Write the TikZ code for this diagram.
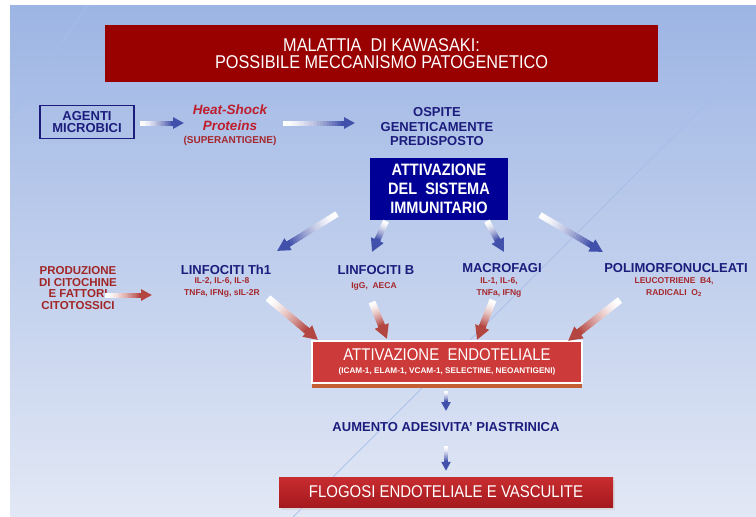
\documentclass[tikz,border=0pt]{standalone}
\usepackage{fontspec}
\setmainfont{Liberation Sans}
\newfontfamily\narrowsf[FakeStretch=0.88]{Liberation Sans}
\usepackage{tikz}
\usetikzlibrary{arrows.meta, calc, positioning}

\definecolor{bgTop}{RGB}{157,181,228}
\definecolor{bgMid}{RGB}{190,206,236}
\definecolor{bgBot}{RGB}{226,232,245}
\definecolor{decoLine}{RGB}{165,190,232}
\definecolor{titleRed}{RGB}{153,0,0}
\definecolor{navyBox}{RGB}{0,0,150}
\definecolor{navyText}{RGB}{28,28,125}
\definecolor{heatRed}{RGB}{190,30,45}
\definecolor{subRed}{RGB}{165,40,45}
\definecolor{prodRed}{RGB}{160,38,38}
\definecolor{endoRed}{RGB}{204,58,58}
\definecolor{endoShadow}{RGB}{195,95,50}
\definecolor{flogTop}{RGB}{200,45,48}
\definecolor{flogMid}{RGB}{210,60,60}
\definecolor{flogBot}{RGB}{165,25,30}
\definecolor{arrBlue}{RGB}{65,80,170}
\definecolor{arrRed}{RGB}{180,70,65}

\newcommand{\fsz}[2]{\fontsize{#1}{#2}\selectfont}

% white-to-colour arrow: colour, shaft width, head size, tail, tip
\newcommand{\fadearrow}[5]{%
  \coordinate (fa-t) at #4;
  \coordinate (fa-h) at #5;
  \coordinate (fa-s) at ($(fa-h)!#3!(fa-t)$);
  \coordinate (fa-u) at ($(fa-s)!1pt!(fa-t)$);
  \foreach \k [evaluate=\k as \segA using \k/20,
               evaluate=\k as \segB using (\k+1.5)/20,
               evaluate=\k as \segC using int(100*(\k/19)^1.5)] in {0,...,19}
    \draw[#1!\segC!white, line width=#2] ($(fa-t)!\segA!(fa-s)$) -- ($(fa-t)!\segB!(fa-s)$);
  \draw[#1, line width=#2, -{Triangle[length=#3, width=#3]}] (fa-u) -- (fa-h);
}

\begin{document}
\begin{tikzpicture}[x=1pt, y=-1pt,
    plain/.style={inner sep=0pt, align=center},
    celltitle/.style={plain, text=navyText, font=\bfseries\fsz{13}{14}},
    cellsub/.style={plain, text=subRed, font=\bfseries\fsz{8.5}{12}}]
  \useasboundingbox (0,0) rectangle (756,517);

  % slide background
  \fill[white] (0,0) rectangle (756,517);
  \shade[top color=bgTop, middle color=bgMid, bottom color=bgBot] (10,5) rectangle (756,517);
  \draw[decoLine, line width=0.7pt] (756,54) -- (293,517);
  \draw[decoLine, line width=0.7pt] (88,5) -- (10,118);

  % title
  \node[plain, fill=titleRed, minimum width=553, minimum height=57, text=white,
        font=\narrowsf\fsz{18.5}{17}] (title) at (381.5,53.5)
        {MALATTIA\ \ DI KAWASAKI:\\POSSIBILE MECCANISMO PATOGENETICO};

  % top chain
  \node[plain, draw=navyText, line width=1.5pt, minimum width=94, minimum height=33,
        text=navyText, font=\bfseries\fsz{13}{12}] (agenti) at (87,122) {AGENTI\\MICROBICI};
  \node[plain, text=heatRed, font=\bfseries\itshape\fsz{13.5}{16}] (heat) at (230,125)
        {Heat-Shock\\Proteins\\[-3pt]{\upshape\fsz{10}{10}\color{subRed}(SUPERANTIGENE)}};
  \node[plain, text=navyText, font=\bfseries\fsz{13}{14.5}] (ospite) at (437,127)
        {OSPITE\\GENETICAMENTE\\PREDISPOSTO};
  \node[plain, fill=navyBox, minimum width=138, minimum height=62, text=white,
        font=\narrowsf\bfseries\fsz{16.5}{19}] (attiv) at (439,189)
        {ATTIVAZIONE\\DEL\ \ SISTEMA\\IMMUNITARIO};

  % cells
  \node[plain, text=prodRed, font=\bfseries\fsz{11.5}{11.5}] (prod) at (78,288)
        {PRODUZIONE\\DI CITOCHINE\\E FATTORI\\CITOTOSSICI};
  \node[celltitle] (th1) at (226,270) {LINFOCITI Th1};
  \node[cellsub] (th1sub) at (222,287) {IL-2, IL-6, IL-8\\TNFa, IFNg, sIL-2R};
  \node[celltitle] (linfB) at (376,270) {LINFOCITI B};
  \node[cellsub] (linfBsub) at (374,286) {IgG,\ \ AECA};
  \node[celltitle] (macro) at (502,268) {MACROFAGI};
  \node[cellsub] (macrosub) at (499,287) {IL-1, IL-6,\\TNFa, IFNg};
  \node[celltitle] (poly) at (676,268) {POLIMORFONUCLEATI};
  \node[cellsub] (polysub) at (674,287) {LEUCOTRIENE\ \ B4,\\RADICALI\ \ O\textsubscript{2}};

  % endothelium and outcome
  \node[plain, fill=endoRed, draw=white, line width=1.8pt, minimum width=270, minimum height=42,
        preaction={fill=endoShadow, transform canvas={yshift=-5pt}},
        text=white, font=\narrowsf\fsz{17}{13}] (endo) at (447,362)
        {ATTIVAZIONE\ \ ENDOTELIALE\\{\normalfont\bfseries\fsz{8.2}{8}(ICAM-1, ELAM-1, VCAM-1, SELECTINE, NEOANTIGENI)}};
  \node[plain, text=navyText, font=\bfseries\fsz{13}{14}] (aumento) at (446,427)
        {AUMENTO ADESIVITA' PIASTRINICA};
  \node[plain, top color=flogTop, middle color=flogMid, bottom color=flogBot,
        minimum width=334, minimum height=30,
        preaction={fill=black!20, opacity=0.5, transform canvas={xshift=2pt, yshift=-3pt}},
        text=white, font=\narrowsf\fsz{17}{18}] (flogosi) at (446,492)
        {FLOGOSI ENDOTELIALE E VASCULITE};

  % blue arrows
  \fadearrow{arrBlue}{5}{11pt}{($(agenti.east)+(5,1)$)}{($(heat)+(-46,-2)$)}
  \fadearrow{arrBlue}{5}{11pt}{($(heat)+(53,-2)$)}{($(ospite)+(-82,-4)$)}
  \fadearrow{arrBlue}{6}{13pt}{($(attiv)+(-102,25)$)}{($(th1)+(51,-19)$)}
  \fadearrow{arrBlue}{6}{13pt}{($(attiv)+(-53,32)$)}{($(linfB)+(-4,-18)$)}
  \fadearrow{arrBlue}{6}{13pt}{($(attiv)+(48,32)$)}{($(macro)+(2,-16)$)}
  \fadearrow{arrBlue}{6}{13pt}{($(attiv)+(101,26)$)}{($(poly)+(-73,-16)$)}

  % red arrows into the endothelium
  \fadearrow{arrRed}{5}{11pt}{($(prod)+(27,7)$)}{($(th1sub)+(-70,8)$)}
  \fadearrow{arrRed}{7}{14pt}{($(th1sub)+(46,11)$)}{($(endo)+(-129,-22)$)}
  \fadearrow{arrRed}{7}{14pt}{($(linfBsub)+(-2,16)$)}{($(endo)+(-60,-23)$)}
  \fadearrow{arrRed}{7}{14pt}{($(macrosub)+(-6,13)$)}{($(endo)+(30,-22)$)}
  \fadearrow{arrRed}{7}{14pt}{($(polysub)+(-54,13)$)}{($(endo)+(121,-21)$)}

  % down the column
  \fadearrow{arrBlue}{4}{9pt}{($(endo.south)+(-1,7)$)}{($(aumento)+(0,-16)$)}
  \fadearrow{arrBlue}{4}{9pt}{($(aumento)+(0,19)$)}{($(flogosi.north)+(0,-6)$)}
\end{tikzpicture}
\end{document}
